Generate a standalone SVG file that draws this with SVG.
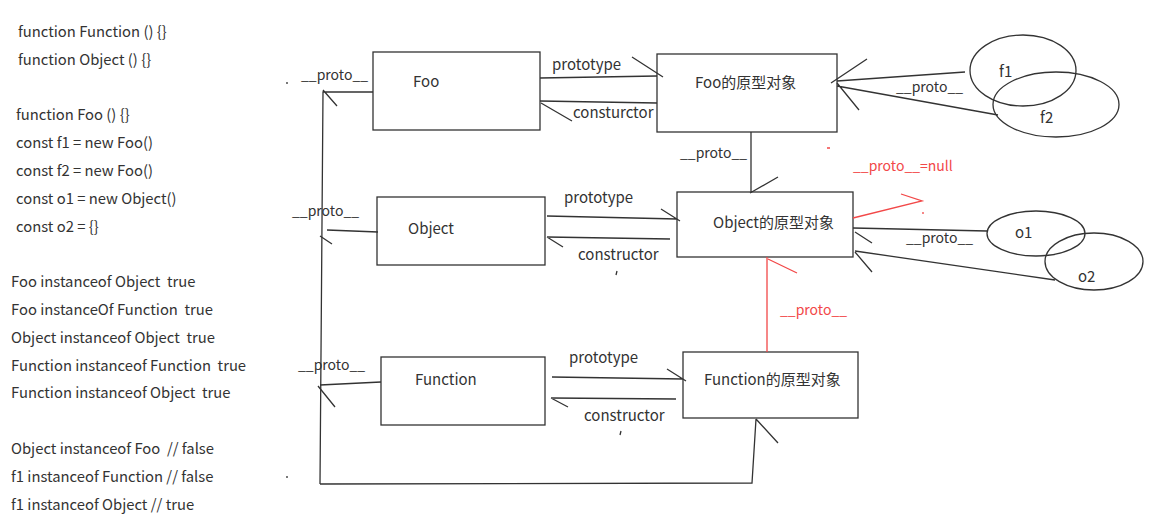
<svg xmlns="http://www.w3.org/2000/svg" width="1162" height="528" viewBox="0 0 1162 528">
<style>
text{font-family:"Noto Sans CJK SC","Microsoft YaHei",sans-serif;font-size:15px;fill:#333}
.code text{font-size:14.8px}
.p{font-size:14px}
.red{fill:#f24848}
rect,ellipse{fill:#fff;stroke:#333;stroke-width:1.3}
.c path{fill:none;stroke:#333;stroke-width:1.3}
.c path.r{stroke:#f24848}
</style>
<rect x="0" y="0" width="1162" height="528" style="fill:#fff;stroke:none"/>
<g class="code">
<text x="18" y="37">function Function () {}</text>
<text x="18" y="65">function Object () {}</text>
<text x="16" y="120">function Foo () {}</text>
<text x="16" y="148">const f1 = new Foo()</text>
<text x="16" y="176">const f2 = new Foo()</text>
<text x="16" y="204">const o1 = new Object()</text>
<text x="16" y="232">const o2 = {}</text>
<text x="11" y="287" xml:space="preserve">Foo instanceof Object  true</text>
<text x="11" y="315" xml:space="preserve">Foo instanceOf Function  true</text>
<text x="11" y="343" xml:space="preserve">Object instanceof Object  true</text>
<text x="11" y="371" xml:space="preserve">Function instanceof Function  true</text>
<text x="11" y="398" xml:space="preserve">Function instanceof Object  true</text>
<text x="11" y="454" xml:space="preserve">Object instanceof Foo  // false</text>
<text x="11" y="482">f1 instanceof Function // false</text>
<text x="11" y="510">f1 instanceof Object // true</text>
</g>
<g id="foo"><rect x="373" y="52" width="167" height="78"/><text x="413" y="87">Foo</text></g>
<g id="foo-proto"><rect x="657" y="54" width="180" height="78"/><text x="695" y="88">Foo的原型对象</text></g>
<g id="object"><rect x="377" y="197" width="168" height="68"/><text x="408" y="234">Object</text></g>
<g id="object-proto"><rect x="677" y="192" width="176" height="65"/><text x="713" y="228">Object的原型对象</text></g>
<g id="function"><rect x="381" y="357" width="164" height="68"/><text x="415" y="385">Function</text></g>
<g id="function-proto"><rect x="683" y="352" width="175" height="66"/><text x="704" y="385">Function的原型对象</text></g>
<g id="f1"><ellipse cx="1023" cy="70.5" rx="53" ry="35.5" style="fill:none"/><text x="999" y="77">f1</text></g>
<g id="f2"><ellipse cx="1056" cy="104.5" rx="63" ry="32.5" style="fill:none"/><text x="1040" y="123">f2</text></g>
<g id="o1"><ellipse cx="1036" cy="233.5" rx="49" ry="22.5" style="fill:none"/><text x="1015" y="238">o1</text></g>
<g id="o2"><ellipse cx="1094" cy="261.5" rx="49" ry="28.5" style="fill:none"/><text x="1078" y="282">o2</text></g>
<g class="c" id="connectors">
<path d="M540,78 L657,76 M632,57 L663,77"/>
<path d="M657,103 L540,101 M541,103 L572,121"/>
<path d="M373,92 L323,92 L320,484 M323,90 L337,106"/>
<path d="M547,216 L677,219 M661,209 L680,221"/>
<path d="M670,239 L547,237 M547,237 L563,247"/>
<path d="M378,232 L327,230 M320,236 L332,244"/>
<path d="M552,377 L683,379 M667,369 L686,381"/>
<path d="M676,399 L551,398 M551,398 L568,407"/>
<path d="M381,382 L320,385 M318,386 L335,407"/>
<path d="M320,484 L752,483 L756,419 M756,419 L778,443"/>
<path d="M751,132 L751,193 M750,193 L778,177"/>
<path d="M965,72 L837,81 M867,59 L831,83 M837,83 L859,110 M998,115 L837,86"/>
<path d="M987,231 L853,228 M855,232 L872,243 M1055,280 L855,251 M855,252 L872,272"/>
<path class="r" d="M767,257 L767,352 M768,259 L797,273"/>
<path class="r" d="M853,218 L922,201 L901,194"/>
<path d="M617,271 L616,275 M621,431 L620,435 M287,82 L287,84 M287,476 L287,478"/>
<path class="r" d="M827,148 L830,148 M923,212 L923,214"/>
</g>
<text x="552" y="70">prototype</text>
<text x="573" y="118">consturctor</text>
<text class="p" x="301" y="80">__proto__</text>
<text x="564" y="203">prototype</text>
<text x="578" y="260">constructor</text>
<text class="p" x="292" y="216">__proto__</text>
<text x="569" y="363">prototype</text>
<text x="584" y="421">constructor</text>
<text class="p" x="298" y="370">__proto__</text>
<text class="p" x="680" y="158">__proto__</text>
<text class="p" x="896" y="92">__proto__</text>
<text class="p" x="906" y="243">__proto__</text>
<text class="p red" x="780" y="315">__proto__</text>
<text class="p red" x="853" y="171">__proto__=null</text>
</svg>
